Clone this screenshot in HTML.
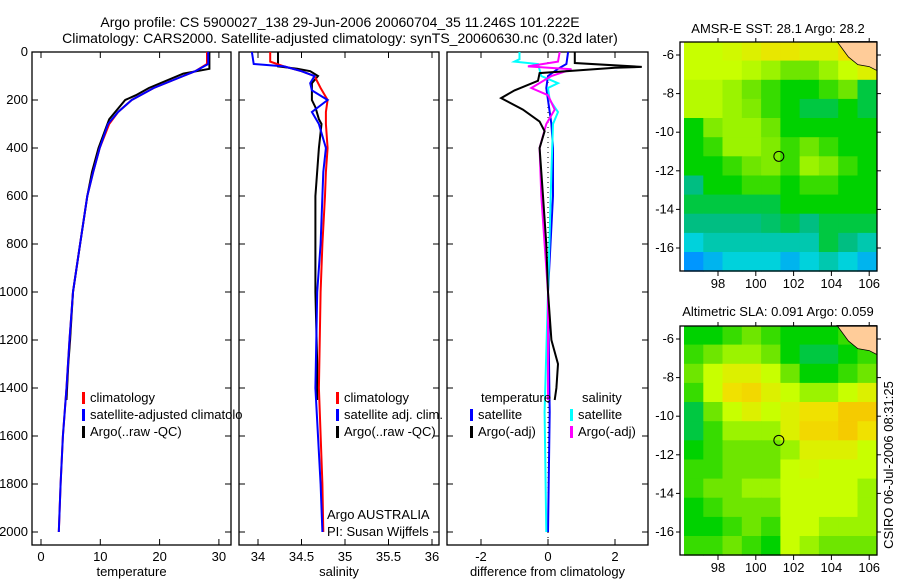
<!DOCTYPE html>
<html><head><meta charset="utf-8"><style>
body{margin:0;background:#fff}
svg{display:block;font-family:"Liberation Sans",sans-serif}
text{font-size:13px;fill:#000}
.tt{font-size:14px}
</style></head><body>
<svg id="s" width="900" height="580">
<text class="tt" x="340" y="27" text-anchor="middle">Argo profile: CS 5900027_138 29-Jun-2006 20060704_35 11.246S 101.222E</text>
<text class="tt" x="340" y="43" text-anchor="middle">Climatology: CARS2000. Satellite-adjusted climatology: synTS_20060630.nc (0.32d later)</text>
<text x="778" y="33" text-anchor="middle">AMSR-E SST: 28.1 Argo: 28.2</text>
<text x="778" y="316" text-anchor="middle">Altimetric SLA: 0.091 Argo: 0.059</text>
<text transform="translate(893,465) rotate(-90)" text-anchor="middle">CSIRO 06-Jul-2006 08:31:25</text>
</svg>
<script>
// ---- data ----
const tDepth=[0,50,80,100,150,200,250,300,400,500,600,800,1000,1200,1400,1600,1800,2000];
const tClim=[28,28,26,24,19,15.3,13,11.5,9.9,8.8,7.8,6.6,5.4,4.8,4.3,3.7,3.3,3.0];
const tSat=[28.2,28.2,26,24,19,15.3,13,11.3,9.9,8.8,7.8,6.6,5.4,4.8,4.3,3.7,3.3,3.0];
const aDepth=[0,70,90,150,180,200,280,400,500,600,800,1000,1200,1300,1400,1450];
const tArgo=[28.4,28.4,24,18.2,16,14.2,11.5,9.7,8.6,7.8,6.6,5.4,4.9,4.6,4.4,4.3];
const sDepth=[0,40,60,80,100,150,200,250,300,400,500,600,800,1000,1400,1800,2000];
const sClim=[34.14,34.14,34.3,34.5,34.65,34.72,34.8,34.78,34.78,34.8,34.78,34.77,34.74,34.72,34.7,34.74,34.75];
const sSatD=[0,50,60,80,100,130,160,200,250,300,400,500,600,800,1000,1400,1800,2000];
const sSat=[33.93,33.95,34.3,34.5,34.65,34.6,34.62,34.8,34.62,34.7,34.78,34.75,34.74,34.72,34.68,34.66,34.72,34.74];
const sArgoD=[0,60,70,80,100,130,180,200,230,280,300,400,600,800,1000,1300,1450];
const sArgo=[34.23,34.23,34.45,34.6,34.69,34.62,34.62,34.62,34.66,34.7,34.73,34.7,34.66,34.66,34.66,34.68,34.68];
const dTArgoD=[0,46,62,66,88,120,160,192,240,290,330,400,500,600,800,1000,1200,1300,1400,1450];
const dTArgo=[0.8,0.8,2.8,2.0,-0.25,-0.3,-1.0,-1.4,-0.75,-0.25,-0.1,-0.25,-0.2,-0.15,-0.05,0,0.1,0.3,0.25,0.2];
const dTSatD=[0,50,70,100,150,200,300,400,600,1000,1500,2000];
const dTSat=[0.6,0.55,0.3,0,-0.05,0,0.1,0.15,0.15,0,0.05,0];
const dSArgoD=[0,40,60,72,100,150,180,240,300,400,600,800,1000,1450];
const dSArgo=[0.35,0.3,-0.6,0.7,0.1,-0.5,0,0.2,-0.05,-0.25,-0.2,-0.1,0,0];
const dSSatD=[0,30,40,50,100,130,150,200,250,300,500,1000,1500,2000];
const dSSat=[-0.85,-0.85,-1,-0.3,-0.2,0.3,0,0.05,0.3,0.15,0.1,0,-0.1,-0.05];
const depthTicks=[0,200,400,600,800,1000,1200,1400,1600,1800,2000];
const tTicks=[0,10,20,30];
const sTicks=[34,34.5,35,35.5,36];
const dTicks=[-2,0,2];
const lonTicks=[98,100,102,104,106];
const latTicks=[-6,-8,-10,-12,-14,-16];
const sstGrid=[
[.7,.7,.72,.75,.78,.78,.75,.75,.8,.8],
[.7,.7,.7,.68,.65,.6,.6,.65,.7,.75],
[.68,.68,.65,.6,.55,.5,.5,.55,.6,.45],
[.68,.68,.65,.62,.55,.5,.45,.45,.5,.45],
[.5,.62,.65,.65,.6,.5,.5,.5,.5,.5],
[.5,.55,.65,.65,.62,.55,.6,.55,.5,.5],
[.5,.5,.55,.6,.62,.55,.65,.62,.55,.5],
[.4,.5,.5,.55,.55,.5,.55,.55,.5,.5],
[.45,.45,.45,.45,.45,.5,.5,.5,.5,.5],
[.4,.4,.4,.4,.42,.45,.4,.45,.45,.45],
[.3,.35,.35,.35,.35,.35,.35,.45,.4,.35],
[.2,.25,.3,.3,.3,.25,.3,.35,.3,.25]];
const slaGrid=[
[.5,.5,.55,.6,.55,.5,.5,.5,.55,.55],
[.55,.6,.65,.65,.6,.5,.45,.45,.5,.55],
[.6,.7,.75,.75,.7,.6,.5,.5,.55,.6],
[.55,.7,.8,.82,.75,.7,.65,.65,.7,.75],
[.45,.6,.7,.75,.7,.75,.8,.8,.85,.85],
[.45,.55,.65,.65,.65,.75,.82,.82,.85,.8],
[.5,.55,.6,.6,.6,.65,.75,.75,.75,.7],
[.55,.55,.6,.6,.6,.7,.72,.7,.7,.7],
[.55,.6,.6,.65,.65,.7,.7,.7,.7,.65],
[.5,.55,.6,.6,.6,.7,.7,.7,.7,.65],
[.5,.5,.55,.6,.55,.7,.7,.65,.65,.65],
[.55,.55,.6,.55,.5,.7,.65,.6,.6,.6]];
const argoLon=101.22, argoLat=-11.25;

const svg=document.getElementById('s');const NS='http://www.w3.org/2000/svg';
function mk(tag,attrs,parent){const e=document.createElementNS(NS,tag);for(const k in attrs)e.setAttribute(k,attrs[k]);(parent||svg).appendChild(e);return e;}
const yD=d=>52+d*0.24;
function panel(name,x0,x1,xs,ticks,fmt,xlabel,showY){
  const g=mk('g',{});
  
  
  const r=mk('rect',{x:x0,y:52,width:x1-x0,height:493,fill:'none',stroke:'#000','stroke-width':1.3},g);
  
  
  depthTicks.forEach(d=>{const y=yD(d);
    mk('line',{x1:x0,x2:x0+6,y1:y,y2:y,stroke:'#000'},g);mk('line',{x1:x1,x2:x1-6,y1:y,y2:y,stroke:'#000'},g);
    if(showY){const t=mk('text',{x:x0-4,y:y+4,'text-anchor':'end'},g);t.textContent=d;
      
      }});
  ticks.forEach(v=>{const x=xs(v);
    mk('line',{x1:x,x2:x,y1:545,y2:539,stroke:'#000'},g);mk('line',{x1:x,x2:x,y1:52,y2:58,stroke:'#000'},g);
    const t=mk('text',{x:x,y:561,'text-anchor':'middle'},g);t.textContent=fmt(v);
    
    });
  const xl=mk('text',{x:(x0+x1)/2,y:576,'text-anchor':'middle'},g);xl.textContent=xlabel;
  
  
  return g;
}
function line(g,xs,depths,vals,color,name){
  const p=depths.map((d,i)=>xs(vals[i]).toFixed(1)+','+yD(d).toFixed(1)).join(' ');
  const e=mk('polyline',{points:p,fill:'none',stroke:color,'stroke-width':2},g);
  
  
}
function legend(g,x,y,color,label){
  if(color)mk('rect',{x:x,y:y-10,width:3,height:12,fill:color},g);
  const t=mk('text',{x:x+8,y:y},g);t.textContent=label;
  
  
}
// temperature
const xT=v=>41+v*5.93;
const g1=panel('temperature-panel',32,231,xT,tTicks,v=>v,'temperature',true);
line(g1,xT,aDepth,tArgo,'#000','temp-argo-line');
line(g1,xT,tDepth,tClim,'#f00','temp-climatology-line');
line(g1,xT,tDepth,tSat,'#00f','temp-satellite-line');
const cp=mk('clipPath',{id:'c1'});mk('rect',{x:32,y:52,width:210,height:493},cp);
const lg1=mk('g',{'clip-path':'url(#c1)'},g1);
legend(lg1,82,402,'#f00','climatology');legend(lg1,82,419,'#00f','satellite-adjusted climatology');legend(lg1,82,436,'#000','Argo(..raw -QC)');
// salinity
const xS=v=>258+(v-34)*87;
const g2=panel('salinity-panel',239,439,xS,sTicks,v=>v,'salinity',false);
line(g2,xS,sArgoD,sArgo,'#000','sal-argo-line');
line(g2,xS,sDepth,sClim,'#f00','sal-climatology-line');
line(g2,xS,sSatD,sSat,'#00f','sal-satellite-line');
legend(g2,336,402,'#f00','climatology');legend(g2,336,419,'#00f','satellite adj. clim.');legend(g2,336,436,'#000','Argo(..raw -QC)');
const a1=mk('text',{x:327,y:519},g2);a1.textContent='Argo AUSTRALIA';


const a2=mk('text',{x:327,y:536},g2);a2.textContent='PI: Susan Wijffels';


// difference
const xDf=v=>548+v*33.5;
const g3=panel('difference-panel',447,648,xDf,dTicks,v=>v,'difference from climatology',false);
mk('line',{x1:xDf(0),x2:xDf(0),y1:52,y2:545,stroke:'#000','stroke-dasharray':'1,4'},g3);
line(g3,xDf,dTSatD,dTSat,'#00f','diff-temp-satellite-line');
line(g3,xDf,dSSatD,dSSat,'#0ff','diff-sal-satellite-line');
line(g3,xDf,dSArgoD,dSArgo,'#f0f','diff-sal-argo-line');
line(g3,xDf,dTArgoD,dTArgo,'#000','diff-temp-argo-line');
legend(g3,473,402,null,'temperature');legend(g3,470,419,'#00f','satellite');legend(g3,470,436,'#000','Argo(-adj)');
legend(g3,574,402,null,'salinity');legend(g3,570,419,'#0ff','satellite');legend(g3,570,436,'#f0f','Argo(-adj)');
// maps
const stops=[[0.2,[0,150,255]],[0.3,[0,210,220]],[0.4,[0,190,130]],[0.5,[0,210,0]],[0.6,[110,230,0]],[0.7,[200,255,0]],[0.8,[240,225,0]],[0.9,[250,180,0]]];
function cmap(v){for(let i=1;i<stops.length;i++){if(v<=stops[i][0]){const [a,ca]=stops[i-1],[b,cb]=stops[i];const t=Math.max(0,(v-a)/(b-a));return 'rgb('+ca.map((c,j)=>Math.round(c+(cb[j]-c)*t)).join(',')+')';}}return 'rgb(250,180,0)';}
function map(name,top,grid){
  const L=680,R=877,B=top+229;
  const xL=lon=>718+(lon-98)*18.9, yL=lat=>(top+13)+(-6-lat)*19.3;
  const g=mk('g',{});
  
  
  const lon0=96.2,lon1=106.4,lat0=-5.3,lat1=-17.2;
  const nr=grid.length,nc=grid[0].length;
  const cw=(lon1-lon0)/nc,ch=(lat0-lat1)/nr;
  grid.forEach((row,i)=>row.forEach((v,j)=>{
    const x=xL(lon0+j*cw),y=yL(lat0-i*ch);
    const c=mk('rect',{x:x.toFixed(1),y:y.toFixed(1),width:(cw*18.9+0.6).toFixed(1),height:(ch*19.3+0.6).toFixed(1),fill:cmap(v)},g);
    
    }));
  const land=mk('polygon',{points:`${xL(104.3)},${yL(-5.3)} ${xL(104.9)},${yL(-6.1)} ${xL(105.4)},${yL(-6.5)} ${xL(106)},${yL(-6.6)} ${xL(106.4)},${yL(-6.8)} ${xL(106.4)},${yL(-5.3)}`,fill:'#fc9',stroke:'#000','stroke-width':0.8},g);
  
  
  mk('rect',{x:L,y:top,width:R-L,height:B-top,fill:'none',stroke:'#000','stroke-width':1.3},g);
  lonTicks.forEach(v=>{const x=xL(v);mk('line',{x1:x,x2:x,y1:B,y2:B+5,stroke:'#000'},g);mk('line',{x1:x,x2:x,y1:top,y2:top-4,stroke:'#000'},g);
    const t=mk('text',{x:x,y:B+17,'text-anchor':'middle'},g);t.textContent=v;
    
    });
  latTicks.forEach(v=>{const y=yL(v);mk('line',{x1:L,x2:L-4,y1:y,y2:y,stroke:'#000'},g);mk('line',{x1:R,x2:R+4,y1:y,y2:y,stroke:'#000'},g);
    const t=mk('text',{x:L-6,y:y+4,'text-anchor':'end'},g);t.textContent=v;
    
    });
  const c=mk('circle',{cx:xL(argoLon),cy:yL(argoLat),r:5,fill:'none',stroke:'#000','stroke-width':1},g);
  
  
}
map('sst-map',42,sstGrid);
map('sla-map',326,slaGrid);
</script>
</body></html>
